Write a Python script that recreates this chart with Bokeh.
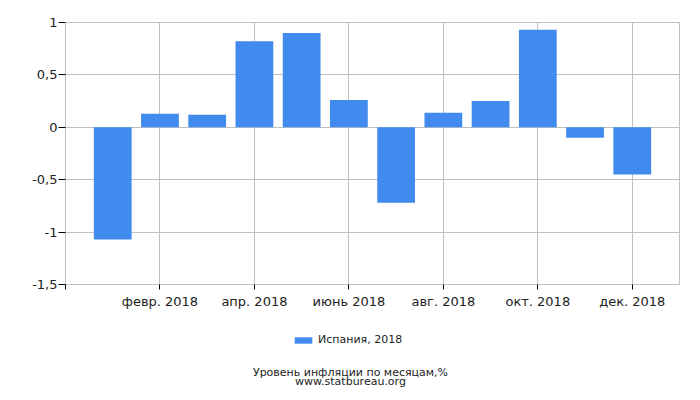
from bokeh.plotting import figure
from bokeh.layouts import column
from bokeh.models import Range1d, FixedTicker, Legend, LegendItem, Label, ColumnDataSource
from bokeh.embed import file_html
from bokeh.resources import INLINE

# Data
months = list(range(1, 13))
values = [-1.07, 0.13, 0.12, 0.82, 0.90, 0.26, -0.72, 0.14, 0.25, 0.93, -0.10, -0.45]
x_ticks = [0, 2, 4, 6, 8, 10, 12]
x_tick_labels = ["", "февр. 2018", "апр. 2018", "июнь 2018", "авг. 2018", "окт. 2018", "дек. 2018"]
y_ticks = [-1.5, -1.0, -0.5, 0.0, 0.5, 1.0]
y_tick_labels = ["-1,5", "-1", "-0,5", "0", "0,5", "1"]
series_name = "Испания, 2018"
title_lines = ["Уровень инфляции по месяцам,%", "www.statbureau.org"]

FONT = "DejaVu Sans"
BAR = "#428bee"
GRID = "#c0c0c0"
TXT = "#222222"
W = 684

p = figure(width=W, height=312, output_backend="svg", toolbar_location=None,
           x_range=Range1d(0, 13), y_range=Range1d(-1.5, 1.0),
           min_border_left=65, min_border_right=5, min_border_top=22, min_border_bottom=28)

src = ColumnDataSource(dict(x=months, top=values))
r = p.vbar(x="x", top="top", bottom=0, width=0.8, source=src,
           fill_color=BAR, line_color=None)

p.outline_line_color = GRID
p.background_fill_color = "white"
p.border_fill_color = "white"

# X axis
xa = p.xaxis[0]
xa.ticker = FixedTicker(ticks=x_ticks)
xa.major_label_overrides = {t: l for t, l in zip(x_ticks, x_tick_labels)}
xa.axis_line_color = GRID
xa.major_tick_line_color = "black"
xa.major_tick_out = 5
xa.major_tick_in = 0
xa.minor_tick_line_color = None
xa.major_label_text_font = FONT
xa.major_label_text_font_size = "13px"
xa.major_label_text_color = TXT
xa.major_label_standoff = 4

# Y axis
ya = p.yaxis[0]
ya.ticker = FixedTicker(ticks=y_ticks)
ya.major_label_overrides = {t: l for t, l in zip(y_ticks, y_tick_labels)}
ya.axis_line_color = GRID
ya.major_tick_line_color = "black"
ya.major_tick_out = 7
ya.major_tick_in = 0
ya.minor_tick_line_color = None
ya.major_label_text_font = FONT
ya.major_label_text_font_size = "13px"
ya.major_label_text_color = TXT
ya.major_label_standoff = 1

p.xgrid.ticker = FixedTicker(ticks=x_ticks)
p.ygrid.ticker = FixedTicker(ticks=y_ticks)
p.xgrid.grid_line_color = GRID
p.ygrid.grid_line_color = GRID

# Footer figure with legend and caption
H2 = 80
f = figure(width=W, height=H2, output_backend="svg", toolbar_location=None,
           x_range=Range1d(0, W), y_range=Range1d(0, H2),
           min_border=0, x_axis_type=None, y_axis_type=None)
f.outline_line_color = None
f.grid.visible = False
f.background_fill_color = "white"
f.border_fill_color = "white"

# hidden copy of the series, only used to draw the legend swatch
lr = f.vbar(x="x", top="top", bottom=0, width=0.8, source=src,
            fill_color=BAR, line_color=None, visible=False)

legend = Legend(items=[LegendItem(label=series_name, renderers=[lr])],
                location=(227, 46), orientation="horizontal",
                padding=0, margin=0, border_line_color=None,
                background_fill_alpha=0, glyph_width=22, glyph_height=8,
                label_standoff=4, label_height=8,
                label_text_font=FONT, label_text_font_size="11px",
                label_text_color=TXT)
f.add_layout(legend, "center")

for txt, yy in zip(title_lines, [20.5, 11.5]):
    f.add_layout(Label(x=285, y=yy, x_units="screen", y_units="screen", text=txt,
                       text_align="center", text_baseline="alphabetic",
                       text_font=FONT, text_font_size="11px", text_color=TXT))

layout = column(p, f, spacing=0)
open("out.html", "w").write(file_html(layout, INLINE))
